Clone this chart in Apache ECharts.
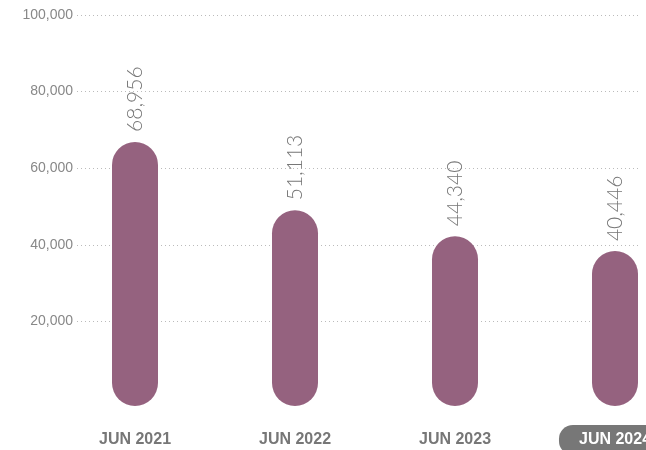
<!DOCTYPE html>
<html>
<head>
<meta charset="utf-8">
<script src="https://cdn.jsdelivr.net/npm/echarts@6/dist/echarts.min.js"></script>
<style>
  html, body {margin: 0; padding: 0; background: #fff;}
  #main {width: 646px; height: 450px;}
</style>
</head>
<body>
<div id="main"></div>
<script>
var categories = ["JUN 2021", "JUN 2022", "JUN 2023", "JUN 2024"];
var values = [68956, 51113, 44340, 40446];
var highlightIndex = 3;

var chart = echarts.init(document.getElementById("main"));
var option = {
  animation: false,
  grid: [
    // axis labels + dotted gridlines
    {left: 77, right: 6, top: 15, height: 383},
    // bars (wider than the viewport, clipped on the right)
    {left: 55, width: 640, top: 23, height: 383, outerBoundsMode: "none"}
  ],
  xAxis: [{
    gridIndex: 0, type: "category", data: categories, show: false
  }, {
    gridIndex: 1,
    type: "category",
    data: categories,
    axisLine: {show: false},
    axisTick: {show: false},
    axisLabel: {
      margin: 19,
      formatter: function (v, i) {
        return i === highlightIndex ? "{hl|" + v + "}" : "{n|" + v + "}";
      },
      rich: {
        n: {
          color: "#777", fontSize: 16, fontWeight: "bold",
          fontFamily: "Liberation Sans", padding: [7, 0, 7, 0]
        },
        hl: {
          color: "#fff", fontSize: 16, fontWeight: "bold",
          fontFamily: "Liberation Sans", backgroundColor: "#777",
          borderRadius: 14, padding: [7, 20, 7, 20]
        }
      }
    }
  }],
  yAxis: [{
    gridIndex: 0,
    type: "value",
    min: 0, max: 100000, interval: 20000,
    axisLine: {show: false},
    axisTick: {show: false},
    axisLabel: {
      showMinLabel: false,
      margin: 4,
      color: "#888",
      fontSize: 14,
      fontFamily: "Liberation Sans",
      verticalAlign: "middle",
      padding: [0, 0, 7, 0]
    },
    splitLine: {showMinLine: false, lineStyle: {color: "#bbb", type: [1, 3], width: 1}}
  }, {
    gridIndex: 1,
    type: "value",
    min: 0, max: 100000,
    show: false,
    splitLine: {show: false}
  }],
  series: [{
    type: "bar",
    xAxisIndex: 1,
    yAxisIndex: 1,
    data: values,
    barWidth: 46,
    itemStyle: {color: "#95627f", borderRadius: 23},
    label: {
      show: true,
      position: "top",
      rotate: 90,
      align: "left",
      verticalAlign: "middle",
      distance: 10,
      color: "#777",
      fontSize: 21,
      fontWeight: 300,
      fontFamily: "Lato",
      formatter: function (p) {
        return p.value.toLocaleString("en-US");
      }
    }
  }]
};
chart.setOption(option);
</script>
</body>
</html>
